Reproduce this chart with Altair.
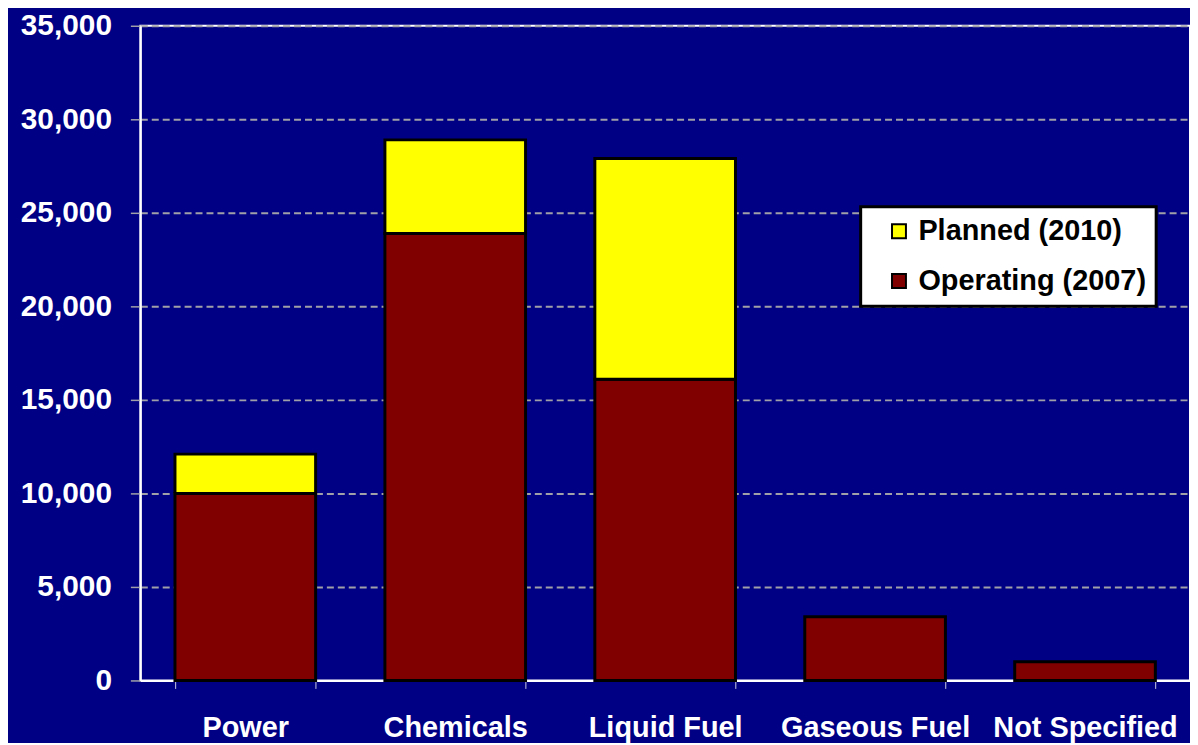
import altair as alt
import pandas as pd

categories = ["Power", "Chemicals", "Liquid Fuel", "Gaseous Fuel", "Not Specified"]
operating_2007 = [10000, 23900, 16100, 3400, 1000]
planned_2010 = [2100, 5000, 11800, 0, 0]
series = ["Planned (2010)", "Operating (2007)"]
colors = ["#FFFF00", "#800000"]
y_ticks = [0, 5000, 10000, 15000, 20000, 25000, 30000, 35000]

rows = []
for c, o, p in zip(categories, operating_2007, planned_2010):
    rows.append({"category": c, "series": "Operating (2007)", "value": o, "order": 0})
    if p > 0:
        rows.append({"category": c, "series": "Planned (2010)", "value": p, "order": 1})
df = pd.DataFrame(rows)

FONT = "Liberation Sans"

chart = alt.Chart(df).mark_bar(stroke="black", strokeWidth=3, opacity=1).encode(
    x=alt.X(
        "category:N",
        sort=categories,
        scale=alt.Scale(paddingInner=0.33, paddingOuter=0.165),
        axis=alt.Axis(
            title=None, labelAngle=0, labelFont=FONT, labelFontSize=29,
            labelFontWeight="bold", labelColor="white", tickBand="extent",
            tickSize=8, tickColor="#C8C8E0", tickWidth=1, labelPadding=25,
            labelBaseline="top", domainColor="white", domainWidth=2, grid=False,
            labelLimit=400,
        ),
    ),
    y=alt.Y(
        "value:Q",
        stack="zero",
        scale=alt.Scale(domain=[0, 35000], nice=False),
        axis=alt.Axis(
            values=y_ticks, format=",d", title=None, labelFont=FONT,
            labelFontSize=30, labelFontWeight="bold", labelColor="white",
            grid=True, gridDash=[7, 4], gridColor="#A0A0A8", gridWidth=2,
            tickSize=10, tickColor="#A0A0A8", tickWidth=1.5, labelPadding=19,
            domainColor="white", domainWidth=2,
        ),
    ),
    color=alt.Color(
        "series:N",
        scale=alt.Scale(domain=series, range=colors),
        legend=alt.Legend(
            title=None, orient="none", legendX=724, legendY=182,
            fillColor="white", strokeColor="black", padding=10,
            symbolType="square", symbolSize=196, symbolStrokeColor="black",
            symbolStrokeWidth=2, symbolOpacity=1, symbolOffset=14,
            labelFont=FONT, labelFontSize=29, labelFontWeight="bold",
            labelColor="black", labelOffset=5, rowPadding=20, labelLimit=400,
        ),
    ),
    order=alt.Order("order:Q", sort="ascending"),
).properties(
    width=1055,
    height=658,
    background="#000085",
    padding={"left": 133, "top": 16, "right": 0, "bottom": 61},
    autosize=alt.AutoSizeParams(type="none"),
).configure_view(stroke="white", strokeWidth=2).configure_legend(strokeWidth=3)

chart.save("out.html", embed_options={"renderer": "svg", "actions": False})
